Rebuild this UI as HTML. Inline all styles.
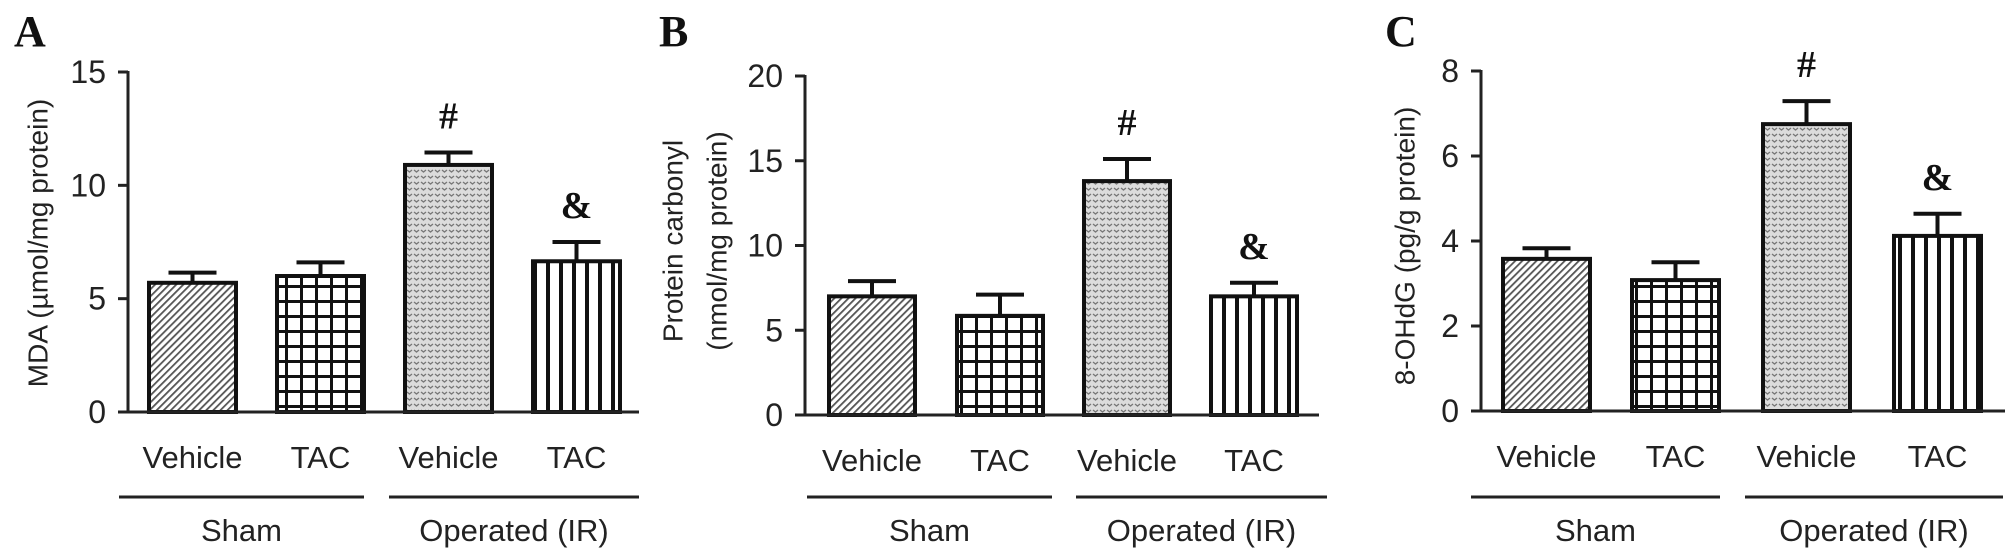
<!DOCTYPE html>
<html><head><meta charset="utf-8"><style>
html,body{margin:0;padding:0;background:#fff;}
svg{display:block;font-family:"Liberation Sans",Arial,sans-serif;}
</style></head><body>
<svg id="fig" width="2008" height="558" viewBox="0 0 2008 558" xmlns="http://www.w3.org/2000/svg">
<defs>
<pattern id="p-diag" patternUnits="userSpaceOnUse" width="5" height="5" patternTransform="rotate(45)"><rect width="5" height="5" fill="#fff"/><rect x="0" y="0" width="1.8" height="5" fill="#555"/></pattern>
<pattern id="p-grid" patternUnits="userSpaceOnUse" width="15" height="15"><rect width="15" height="15" fill="#fff"/><rect x="0" y="0" width="3" height="15" fill="#111"/><rect x="0" y="0" width="15" height="3" fill="#111"/></pattern>
<pattern id="p-dot" patternUnits="userSpaceOnUse" width="7" height="6"><rect width="7" height="6" fill="#dcdcdc"/><path d="M1 2 L3.5 4 L6 2" stroke="#777" stroke-width="1.3" fill="none"/></pattern>
<pattern id="p-vert" patternUnits="userSpaceOnUse" width="13" height="10"><rect width="13" height="10" fill="#fff"/><rect x="0" y="0" width="4" height="10" fill="#111"/></pattern>
</defs>
</svg>
<script>
const categories = ["Vehicle","TAC","Vehicle","TAC"];
const groups = ["Sham","Operated (IR)"];
const fills = ["url(#p-diag)","url(#p-grid)","url(#p-dot)","url(#p-vert)"];
const valuesA = [5.7, 6.0, 10.9, 6.65];
const errorsA = [0.45, 0.6, 0.55, 0.85];
const marksA = ["", "", "#", "&"];
const ticksA = [0, 5, 10, 15];
const valuesB = [7.0, 5.85, 13.8, 7.0];
const errorsB = [0.9, 1.25, 1.3, 0.8];
const marksB = ["", "", "#", "&"];
const ticksB = [0, 5, 10, 15, 20];
const valuesC = [3.58, 3.08, 6.75, 4.12];
const errorsC = [0.25, 0.42, 0.54, 0.52];
const marksC = ["", "", "#", "&"];
const ticksC = [0, 2, 4, 6, 8];

const svg = document.getElementById('fig');
const NS = 'http://www.w3.org/2000/svg';
function mk(tag, attrs, text){
  const e = document.createElementNS(NS, tag);
  for (const k in attrs) e.setAttribute(k, attrs[k]);
  if (text !== undefined) e.textContent = text;
  svg.appendChild(e);
  return e;
}
const panels = [
  {id:'a', letter:'A', lx:14, axisX:128, y0:412, yTop:72, max:15, ticks:ticksA, vals:valuesA, errs:errorsA, marks:marksA,
   barX:[149,277,405,533], bw:87, axisEnd:639, lineSham:[119,364], lineOp:[389,639],
   title:["MDA (\u00b5mol/mg protein)"], titleX:[38], titleY:243},
  {id:'b', letter:'B', lx:659, axisX:805, y0:415, yTop:76, max:20, ticks:ticksB, vals:valuesB, errs:errorsB, marks:marksB,
   barX:[829,957,1084,1211], bw:86, axisEnd:1319, lineSham:[807,1052], lineOp:[1076,1327],
   title:["Protein carbonyl","(nmol/mg protein)"], titleX:[673,717], titleY:241},
  {id:'c', letter:'C', lx:1385, axisX:1481, y0:411, yTop:71, max:8, ticks:ticksC, vals:valuesC, errs:errorsC, marks:marksC,
   barX:[1503,1632,1763,1894], bw:87, axisEnd:2005, lineSham:[1471,1720], lineOp:[1745,2003],
   title:["8-OHdG (pg/g protein)"], titleX:[1405], titleY:246}
];
panels.forEach(p => {
  const y = v => p.y0 - (v / p.max) * (p.y0 - p.yTop);
  let e;
  e = mk('text', {x:p.lx, y:46, 'font-family':'Liberation Serif, serif', 'font-weight':'bold', 'font-size':44, fill:'#111'}, p.letter);
  
  
  p.title.forEach((t, i) => {
    const tx = p.titleX[i];
    e = mk('text', {x:tx, y:p.titleY, 'font-size':28, fill:'#222', 'text-anchor':'middle', 'dominant-baseline':'central', transform:`rotate(-90 ${tx} ${p.titleY})`}, t);
    
    
  });
  p.vals.forEach((v, i) => {
    const x = p.barX[i], top = y(v), et = y(v + p.errs[i]), cx = x + p.bw / 2;
    e = mk('line', {x1:cx, x2:cx, y1:top, y2:et, stroke:'#111', 'stroke-width':4});
    
    
    e = mk('line', {x1:cx - 24, x2:cx + 24, y1:et, y2:et, stroke:'#111', 'stroke-width':4});
    
    
    e = mk('rect', {x:x, y:top, width:p.bw, height:p.y0 - top, fill:fills[i], stroke:'#111', 'stroke-width':4});
    
    
    if (p.marks[i]) {
      e = mk('text', {x:cx, y:et - 24, 'text-anchor':'middle', 'font-family':'Liberation Serif, serif', 'font-weight':'bold', 'font-size':38, fill:'#111'}, p.marks[i]);
      
      
    }
    e = mk('text', {x:cx, y:p.y0 + 56, 'text-anchor':'middle', 'font-size':31, fill:'#222'}, categories[i]);
    
    
  });
  e = mk('line', {x1:p.axisX, x2:p.axisX, y1:p.yTop - 1, y2:p.y0, stroke:'#222', 'stroke-width':3});
  
  
  e = mk('line', {x1:p.axisX - 10, x2:p.axisEnd, y1:p.y0, y2:p.y0, stroke:'#222', 'stroke-width':3});
  
  
  p.ticks.forEach(t => {
    e = mk('line', {x1:p.axisX - 10, x2:p.axisX, y1:y(t), y2:y(t), stroke:'#222', 'stroke-width':3});
    
    
    e = mk('text', {x:p.axisX - 22, y:y(t) + 11, 'text-anchor':'end', 'font-size':32, fill:'#222'}, String(t));
    
    
  });
  [p.lineSham, p.lineOp].forEach((l, gi) => {
    e = mk('line', {x1:l[0], x2:l[1], y1:497, y2:497, stroke:'#222', 'stroke-width':3});
    
    
    e = mk('text', {x:(l[0] + l[1]) / 2, y:541, 'text-anchor':'middle', 'font-size':31, fill:'#222'}, groups[gi]);
    
    
  });
});
</script>
</body></html>
